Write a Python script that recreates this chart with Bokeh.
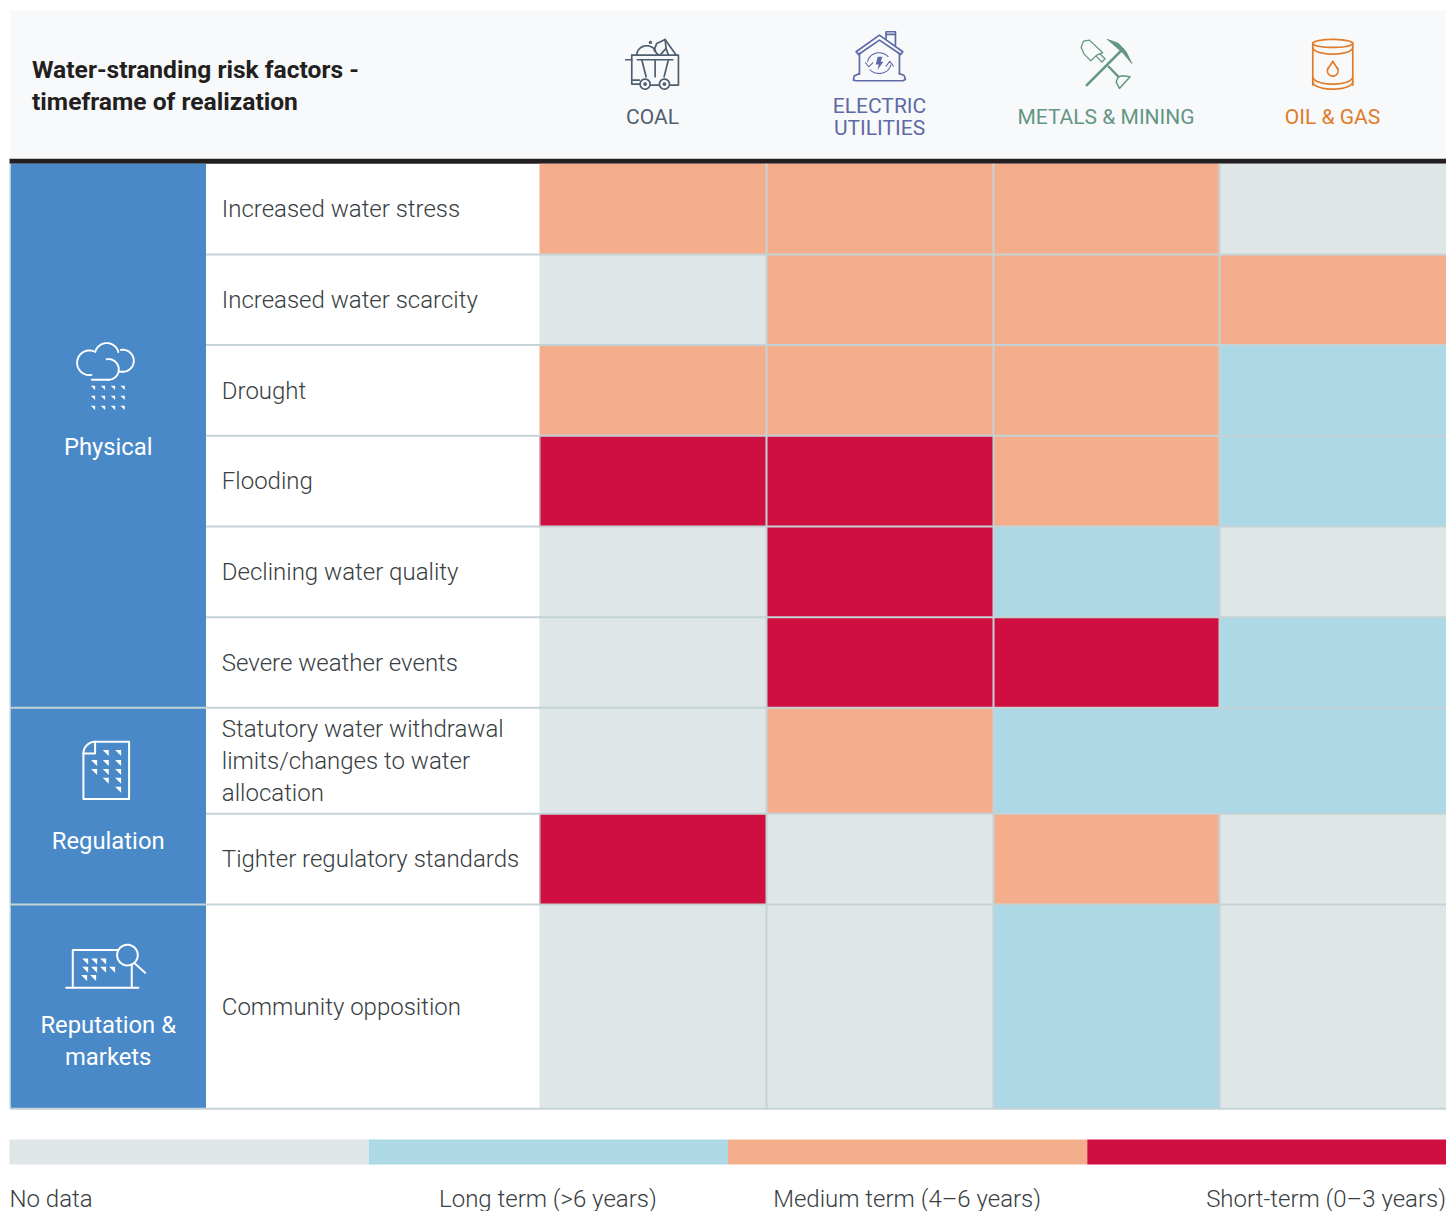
import numpy as np
from bokeh.embed import file_html
from bokeh.models import ColumnDataSource, Range1d
from bokeh.plotting import figure
from bokeh.resources import INLINE
from bokeh.core.properties import value

TITLE = ["Water-stranding risk factors -", "timeframe of realization"]
SECTORS = ["COAL", "ELECTRIC\nUTILITIES", "METALS & MINING", "OIL & GAS"]
SECTOR_COLORS = ["#4f5f70", "#5e6aa6", "#639683", "#e07b28"]
RISKS = ["Increased water stress", "Increased water scarcity", "Drought", "Flooding",
         "Declining water quality", "Severe weather events",
         "Statutory water withdrawal\nlimits/changes to water\nallocation",
         "Tighter regulatory standards", "Community opposition"]
GROUPS = ["Physical", "Regulation", "Reputation &\nmarkets"]
LEVELS = ["No data", "Long term (>6 years)", "Medium term (4–6 years)", "Short-term (0–3 years)"]
LEVEL_COLORS = ["#dee6e8", "#add8e6", "#f4ae8c", "#cf0f3f"]
coal     = [2, 0, 2, 3, 0, 0, 0, 3, 0]
electric = [2, 2, 2, 3, 3, 3, 2, 0, 0]
metals   = [2, 2, 2, 2, 1, 3, 1, 2, 1]
oil_gas  = [0, 2, 1, 1, 0, 1, 1, 0, 0]
MATRIX = [coal, electric, metals, oil_gas]

# layout, in page pixels
W, H = 1446, 1211
ROW_Y = [163.3, 254, 344.5, 435.2, 526, 616.7, 707.3, 813.3, 904, 1108.3]
COL_X = [539, 766, 993, 1219, 1446]
GROUP_Y = [163.3, 707.3, 904, 1108.3]
PANEL_L, PANEL_R = 10, 205.5
GRID = "#c5d3d6"
BLUE = "#4a89c8"
INK = "#383e42"
FONT = value("Roboto")
LIGHT = value("Roboto Light")

p = figure(width=W, height=H, x_range=Range1d(0, W), y_range=Range1d(H, 0),
           x_axis_type=None, y_axis_type=None, toolbar_location=None,
           output_backend="svg", min_border=0, outline_line_color=None,
           background_fill_color="white", border_fill_color="white")
p.grid.visible = False


def text(x, y, s, size, color, align="left", style="normal", leading=32.0, font=LIGHT):
    for i, line in enumerate(s.split("\n")):
        p.text([x], [y + i * leading], text=[line], text_font=font, text_font_size=size,
               text_color=color, text_align=align, text_baseline="middle", text_font_style=style)


# header band
p.quad(left=[10], right=[1446], top=[10], bottom=[158.3], fill_color="#f8f9fb", line_color=None)
p.quad(left=[9], right=[1446], top=[158.3], bottom=[163.3], fill_color="#231f20", line_color=None)
text(31.5, 69.2, TITLE[0], "24.6px", "#231f20", style="bold", font=FONT)
text(31.5, 101.2, TITLE[1], "24.6px", "#231f20", style="bold", font=FONT)

# cells (a cell overlaps its right neighbour by a pixel when both have one colour: no seam)
l, r, t, b, c = [], [], [], [], []
for j, series in enumerate(MATRIX):
    for i, v in enumerate(series):
        same = j < 3 and MATRIX[j + 1][i] == v and i == 6
        l.append(COL_X[j]); r.append(COL_X[j + 1] + (1 if same else 0))
        t.append(ROW_Y[i]); b.append(ROW_Y[i + 1])
        c.append(LEVEL_COLORS[v])
p.quad(left="l", right="r", top="t", bottom="b", fill_color="c", line_color=None,
       source=ColumnDataSource(dict(l=l, r=r, t=t, b=b, c=c)))

# group panels
p.quad(left=[PANEL_L] * 3, right=[PANEL_R] * 3, top=GROUP_Y[:-1], bottom=GROUP_Y[1:],
       fill_color=BLUE, line_color=None)

# grid lines
xs, ys = [], []
for i, y in enumerate(ROW_Y[1:]):
    start = PANEL_L if y in GROUP_Y else PANEL_R
    xs.append([start, 1446]); ys.append([y, y])
for j, x in enumerate(COL_X[1:-1], start=1):
    for i in range(len(RISKS)):
        if MATRIX[j][i] == 1 and MATRIX[j - 1][i] == 1 and i == 6:
            continue
        xs.append([x, x]); ys.append([ROW_Y[i], ROW_Y[i + 1]])
p.multi_line(xs, ys, line_color=GRID, line_width=2)
# thin edges: left of the panels, and left of the short-term cells of the first column
xs2 = [[9.5, 9.5]]
ys2 = [[163.3, 1108.3]]
for i, v in enumerate(coal):
    if v == 3:
        xs2.append([COL_X[0] + 0.5] * 2); ys2.append([ROW_Y[i], ROW_Y[i + 1]])
p.multi_line(xs2, ys2, line_color=GRID, line_width=1)

# row labels
for i, name in enumerate(RISKS):
    n = name.count("\n")
    mid = (ROW_Y[i] + ROW_Y[i + 1]) / 2 - n * 16 + 0.3
    text(221.3, mid, name, "24px", INK)

# group labels
text(107.7, 446, GROUPS[0], "23.8px", "white", "center", font=FONT)
text(107.7, 840, GROUPS[1], "23.8px", "white", "center", font=FONT)
text(107.7, 1024.5, GROUPS[2], "23.8px", "white", "center", leading=32, font=FONT)

# sector labels
centers = [(COL_X[j] + COL_X[j + 1]) / 2 - 0.5 for j in range(4)]
for j, s in enumerate(SECTORS):
    y = 105.7 if "\n" in s else 116.7
    text(centers[j], y, s, "21px", SECTOR_COLORS[j], "center", leading=22, font=FONT)

# legend
n = len(LEVELS)
edges = [9 + i * (1446 - 9) / n for i in range(n + 1)]
p.quad(left=edges[:-1], right=edges[1:], top=[1139] * n, bottom=[1164] * n,
       fill_color=LEVEL_COLORS, line_color=None)
text(9, 1198.7, LEVELS[0], "24px", INK)
text((edges[1] + edges[2]) / 2 - 0.5, 1198.7, LEVELS[1], "24px", INK, "center")
text((edges[2] + edges[3]) / 2 - 0.5, 1198.7, LEVELS[2], "24px", INK, "center")
text(1445.5, 1198.7, LEVELS[3], "24px", INK, "right")


# icons: shapes noted in the zoom crops' 3x coordinates
def tx(pts, ox, oy):
    a = np.array(pts, float)
    return list(a[:, 0] / 3 + ox - 0.4), list(a[:, 1] / 3 + oy - 0.4)


def poly(pts, ox, oy, color, width=1.7):
    x, y = tx(pts, ox, oy)
    p.line(x, y, line_color=color, line_width=width, line_join="round", line_cap="round")


def fill(pts, ox, oy, color):
    x, y = tx(pts, ox, oy)
    p.patch(x, y, fill_color=color, line_color=None)


def arc(cx, cy, rx, ry, a0, a1, ox, oy, color, width=1.7):
    t_ = np.radians(np.linspace(a0, a1, 40))
    poly(np.c_[cx + rx * np.cos(t_), cy + ry * np.sin(t_)], ox, oy, color, width)


def tri(x, y, s, ox, oy, color="white"):
    fill([(x, y), (x + s, y), (x + s, y + s)], ox, oy, color)


# coal
C, ox, oy = SECTOR_COLORS[0], 540, 10
poly([(275, 135), (415, 135), (415, 225), (390, 225)], ox, oy, C)
poly([(275, 135), (275, 222), (298, 222)], ox, oy, C)
poly([(257, 149), (275, 149)], ox, oy, C)
poly([(292, 149), (398, 149)], ox, oy, C)
poly([(305, 149), (318, 200)], ox, oy, C)
poly([(345, 149), (345, 200)], ox, oy, C)
poly([(385, 149), (372, 200)], ox, oy, C)
poly([(332, 225), (358, 225)], ox, oy, C)
poly([(278, 210), (298, 210)], ox, oy, C)
arc(315, 222, 15, 15, 0, 360, ox, oy, C)
arc(373, 222, 15, 15, 0, 360, ox, oy, C)
arc(315, 222, 3, 3, 0, 360, ox, oy, C)
arc(373, 222, 3, 3, 0, 360, ox, oy, C)
arc(320, 135, 30, 28, 180, 330, ox, oy, C)
poly([(355, 135), (342, 120), (350, 100), (375, 88), (378, 115), (360, 135)], ox, oy, C)
poly([(375, 88), (408, 135)], ox, oy, C)
poly([(378, 115), (385, 135)], ox, oy, C)
arc(331, 97, 2, 2, 0, 360, ox, oy, C, 2)

# electric utilities
C = SECTOR_COLORS[1]
poly([(948, 125), (1018, 75), (1088, 125), (1082, 133), (1018, 90), (955, 133), (948, 125)], ox, oy, C)
poly([(1038, 85), (1038, 65), (1066, 65), (1066, 105)], ox, oy, C)
poly([(1038, 73), (1066, 73)], ox, oy, C)
poly([(958, 130), (958, 192)], ox, oy, C)
poly([(1078, 130), (1078, 192)], ox, oy, C)
poly([(958, 190), (942, 198), (940, 210), (948, 212), (1088, 212), (1096, 208), (1092, 196), (1078, 190)], ox, oy, C)
arc(1017, 160, 35, 32, 190, 320, ox, oy, C, 1.1)
arc(1017, 160, 35, 30, 10, 140, ox, oy, C, 1.1)
poly([(976, 158), (986, 170), (998, 158)], ox, oy, C, 1.1)
poly([(1038, 168), (1049, 154), (1060, 168)], ox, oy, C, 1.1)
fill([(1013, 140), (1027, 140), (1022, 155), (1030, 155), (1012, 180), (1016, 163), (1007, 163)], ox, oy, C)

# metals & mining
C, ox, oy = SECTOR_COLORS[2], 990, 10
poly([(290, 225), (398, 117)], ox, oy, C, 2.6)
x_, y_ = tx([(352, 88), (385, 100), (408, 125), (425, 160), (400, 130), (380, 112)], ox, oy)
p.patch(x_, y_, fill_color=C, line_color=C, line_width=1)
poly([(298, 90), (280, 93), (273, 112), (282, 132), (302, 152), (320, 135), (338, 128), (298, 90)], ox, oy, C, 1.3)
poly([(318, 138), (335, 156), (345, 146), (328, 130)], ox, oy, C, 1.3)
poly([(356, 170), (385, 200)], ox, oy, C, 2.4)
poly([(385, 200), (378, 215), (388, 235), (420, 200), (398, 197), (385, 200)], ox, oy, C, 1.5)

# oil & gas
C = SECTOR_COLORS[3]
arc(1028, 100, 60, 12, 0, 360, ox, oy, C)
poly([(968, 100), (968, 225)], ox, oy, C)
poly([(1088, 100), (1088, 225)], ox, oy, C)
arc(1028, 112, 60, 20, 0, 180, ox, oy, C)
arc(1028, 200, 60, 22, 0, 180, ox, oy, C)
arc(1028, 215, 60, 22, 0, 180, ox, oy, C)
poly([(1028, 154), (1014, 175)], ox, oy, C, 1.7)
poly([(1028, 154), (1042, 175)], ox, oy, C, 1.7)
arc(1028, 182, 16, 16, -30, 210, ox, oy, C, 1.7)

# physical
ox, oy = 0, 320
arc(268, 128, 37, 37, 80, 290, ox, oy, "white", 1.9)
arc(325, 148, 31, 31, -100, 90, ox, oy, "white", 1.9)
poly([(275, 179), (325, 179)], ox, oy, "white", 1.9)
arc(320, 105, 36, 36, 195, 345, ox, oy, "white", 1.9)
arc(368, 122, 33, 33, -100, 90, ox, oy, "white", 1.9)
poly([(358, 155), (370, 155)], ox, oy, "white", 1.9)
for yy in (197, 227, 257):
    for xx in (272, 302, 332, 361):
        tri(xx, yy, 13, ox, oy)

# regulation
ox, oy = 0, 700
poly([(285, 125), (387, 125), (387, 297), (250, 297), (250, 160)], ox, oy, "white", 2)
arc(285, 160, 35, 35, 180, 270, ox, oy, "white", 2)
poly([(250, 160), (285, 160), (285, 125)], ox, oy, "white", 2)
for yy, cols in ((150, (308, 345)), (180, (273, 308, 345)), (207, (273, 308, 345)),
                 (233, (308, 345)), (260, (345,))):
    for xx in cols:
        tri(xx, yy, 18, ox, oy)

# reputation
ox, oy = 0, 895
poly([(352, 165), (218, 165), (218, 277)], ox, oy, "white", 2)
poly([(198, 278), (415, 278)], ox, oy, "white", 2)
poly([(395, 212), (395, 277)], ox, oy, "white", 2)
arc(382, 180, 31, 31, 0, 360, ox, oy, "white", 2)
poly([(405, 206), (435, 233)], ox, oy, "white", 2)
for yy, cols in ((190, (246, 273, 300)), (215, (246, 273, 300, 327)), (240, (243, 270))):
    for xx in cols:
        tri(xx, yy, 18, ox, oy)

open("out.html", "w").write(file_html(p, INLINE))
